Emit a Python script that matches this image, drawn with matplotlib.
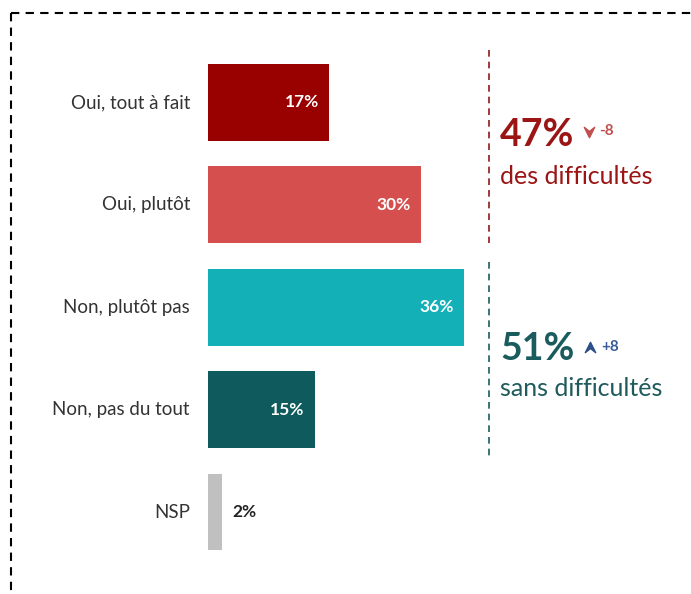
import matplotlib.pyplot as plt
from matplotlib.path import Path

plt.rcParams['font.family'] = ['Lato', 'DejaVu Sans']

# Data
categories = ['Oui, tout à fait', 'Oui, plutôt', 'Non, plutôt pas',
              'Non, pas du tout', 'NSP']
values = [17, 30, 36, 15, 2]
colors = ['#990000', '#d64f4f', '#14b0b8', '#0e5a5c', '#c0c0c0']
group_totals = ['47%', '51%']
group_labels = ['des difficultés', 'sans difficultés']
group_deltas = ['-8', '+8']

W, H = 691, 594
fig = plt.figure(figsize=(W / 100, H / 100), dpi=100)

# axes starts where bars start (x=208 px), 7.1 px per %
px_per_pct = 7.1
x0 = 208
ax = fig.add_axes([x0 / W, 0, 1 - x0 / W, 1])
ax.set_xlim(0, (W - x0) / px_per_pct)
ax.set_ylim(4.8, -1.0)
ax.axis('off')


def fx(px):
    return px / W


def fy(py):
    return 1 - py / H


ypos = range(len(values))
ax.barh(list(ypos), values, height=0.75, color=colors)

for i, (cat, v) in enumerate(zip(categories, values)):
    ax.text(-18 / px_per_pct, i, cat, ha='right', va='center',
            fontsize=13.5, color='#333333')
    if v >= 5:
        ax.text(v - 1.4, i, f'{v}%', ha='right', va='center',
                fontsize=12.5, fontweight='bold', color='white')
    else:
        ax.text(v + 1.5, i, f'{v}%', ha='left', va='center',
                fontsize=12.5, fontweight='bold', color='#222222')

# group separators
xs = (489 - x0) / px_per_pct
ax.plot([xs, xs], [(50 - 102.5) / 102.4, (243 - 102.5) / 102.4],
        ls=(0, (4, 3)), color='#8b1a1a', lw=1.2, clip_on=False)
ax.plot([xs, xs], [(262 - 102.5) / 102.4, (456 - 102.5) / 102.4],
        ls=(0, (4, 3)), color='#1a5c5e', lw=1.2, clip_on=False)

# notched arrowheads for the trend markers (no installed glyph)
down_arrow = Path([(-1, 1), (0, -1), (1, 1), (0, 0.2), (-1, 1)],
                  [Path.MOVETO, Path.LINETO, Path.LINETO, Path.LINETO,
                   Path.CLOSEPOLY])
up_arrow = Path([(-1, -1), (0, 1), (1, -1), (0, -0.2), (-1, -1)],
                [Path.MOVETO, Path.LINETO, Path.LINETO, Path.LINETO,
                 Path.CLOSEPOLY])

# group annotations
fig.text(fx(500), fy(135), group_totals[0], ha='left', va='center',
         fontsize=27, fontweight='bold', color='#9b1515')
fig.add_artist(plt.Line2D([fx(589)], [fy(132)], marker=down_arrow,
                          markersize=7.5, color='#c0504d', lw=0))
fig.text(fx(599), fy(131), group_deltas[0], ha='left', va='center',
         fontsize=11, fontweight='bold', color='#c0504d')
fig.text(fx(500), fy(176), group_labels[0], ha='left', va='center',
         fontsize=18, color='#9b1515')

fig.text(fx(500), fy(349), group_totals[1], ha='left', va='center',
         fontsize=27, fontweight='bold', color='#1a5c5e')
fig.add_artist(plt.Line2D([fx(590)], [fy(347)], marker=up_arrow,
                          markersize=7.5, color='#2e4f8a', lw=0))
fig.text(fx(601), fy(347), group_deltas[1], ha='left', va='center',
         fontsize=11, fontweight='bold', color='#3a5a9a')
fig.text(fx(500), fy(388), group_labels[1], ha='left', va='center',
         fontsize=18, color='#1f5a5c')

# dashed frame
fig.add_artist(plt.Line2D([fx(11), fx(W + 5)], [fy(13), fy(13)],
                          ls=(0, (4, 3)), color='black', lw=1.5))
fig.add_artist(plt.Line2D([fx(11), fx(11)], [fy(13), fy(H + 5)],
                          ls=(0, (4, 3)), color='black', lw=1.5))

fig.savefig('out.png', dpi=100)
